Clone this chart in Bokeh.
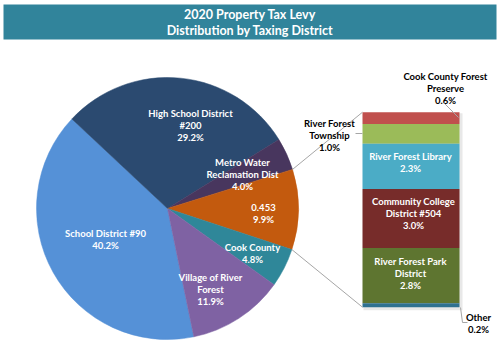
import math
from bokeh.plotting import figure
from bokeh.models import Range1d, ColumnDataSource
from bokeh.core.properties import value
from bokeh.embed import file_html
from bokeh.resources import INLINE

# ---------------- data ----------------
title_lines = ["2020 Property Tax Levy", "Distribution by Taxing District"]

pie_names = ["School District #90", "High School District #200", "Metro Water Reclamation Dist",
             "0.453", "Cook County", "Village of River Forest"]
pie_values = [40.2, 29.2, 4.0, 9.9, 4.8, 11.9]
pie_colors = ["#5591D7", "#2B4A70", "#48365E", "#C35A0E", "#2F8799", "#7F62A3"]
pie_label_lines = [["School District #90", "40.2%"],
                   ["High School District", "#200", "29.2%"],
                   ["Metro Water", "Reclamation Dist", "4.0%"],
                   ["0.453", "9.9%"],
                   ["Cook County", "4.8%"],
                   ["Village of River", "Forest", "11.9%"]]

bar_names = ["Cook County Forest Preserve", "River Forest Township", "River Forest Library",
             "Community College District #504", "River Forest Park District", "Other"]
bar_values = [0.6, 1.0, 2.3, 3.0, 2.8, 0.2]
bar_colors = ["#C0504D", "#9BBB59", "#4BACC6", "#772C2A", "#5E7530", "#2F7190"]
bar_label_lines = [["Cook County Forest", "Preserve", "0.6%"],
                   ["River Forest", "Township", "1.0%"],
                   ["River Forest Library", "2.3%"],
                   ["Community College", "District #504", "3.0%"],
                   ["River Forest Park", "District", "2.8%"],
                   ["Other", "0.2%"]]

# ---------------- layout ----------------
W, H = 500, 350
FONT = "Lato"

def Y(py):
    return H - py

p = figure(width=W, height=H, x_range=Range1d(0, W), y_range=Range1d(0, H),
           output_backend="svg", toolbar_location=None, min_border=0,
           background_fill_color="white", border_fill_color="white")
p.axis.visible = False
p.grid.visible = False
p.outline_line_color = None

# title band
p.quad(left=[3], right=[496], top=[Y(4)], bottom=[Y(39)], fill_color="#31849B", line_color=None)
p.text(x=[249.5, 249.5], y=[Y(14), Y(30)], text=title_lines, text_color="white",
       text_font=value(FONT), text_font_style="bold", text_font_size="12.5px",
       text_align="center", text_baseline="middle")

# pie
cx, cy, R = 167, Y(208), 131
start_cw = 168.4  # clockwise degrees from 12 o'clock where first slice begins
total = sum(pie_values)
starts, ends = [], []
acc = start_cw
for v in pie_values:
    a0 = acc
    a1 = acc + v / total * 360.0
    starts.append(math.radians(90 - a0))
    ends.append(math.radians(90 - a1))
    acc = a1
p.wedge(x=cx, y=cy, radius=R, start_angle=starts, end_angle=ends, direction="clock",
        fill_color=pie_colors, line_color=pie_colors, line_width=0.5)

# pie labels (px positions of first line centre)
pie_label_pos = [(105, 233), (190, 113), (242, 162), (263, 207), (252, 247), (210, 277)]
LS = 12
for (lx, ly), lines in zip(pie_label_pos, pie_label_lines):
    p.text(x=[lx] * len(lines), y=[Y(ly + i * LS) for i in range(len(lines))], text=lines,
           text_color="white", text_font=value(FONT), text_font_style="bold",
           text_font_size="9.5px", text_align="center", text_baseline="middle")

# connector angles of the "Other" slice (index 3)
other_start_cw = start_cw + sum(pie_values[:3]) / total * 360.0
other_end_cw = other_start_cw + pie_values[3] / total * 360.0

# stacked bar
bx0, bx1 = 362, 459
btop, bbot = Y(111.7), Y(306.7)
btotal = sum(bar_values)
scale = (btop - bbot) / btotal
tops, bots = [], []
acc = btop
for v in bar_values:
    tops.append(acc)
    acc -= v * scale
    bots.append(acc)
# faint shadow
p.quad(left=[bx0 + 1], right=[bx1 + 3], top=[btop - 1], bottom=[bbot - 3],
       fill_color="#D9D9D9", fill_alpha=0.6, line_color=None)
p.quad(left=[bx0] * len(bar_values), right=[bx1] * len(bar_values), top=tops, bottom=bots,
       fill_color=bar_colors, line_color=None)

# connectors
def pie_pt(cw_deg):
    a = math.radians(90 - cw_deg)
    return cx + R * math.cos(a), cy + R * math.sin(a)

sx, sy = pie_pt(other_start_cw)
ex, ey = pie_pt(other_end_cw)
p.segment(x0=[sx, ex], y0=[sy, ey], x1=[bx0, bx0], y1=[btop, bbot],
          line_color="#A6A6A6", line_width=1)

# bar labels inside (white)
inside_pos = {2: (410, 156), 3: (413, 201), 4: (410, 261)}
for i, (lx, ly) in inside_pos.items():
    lines = bar_label_lines[i]
    p.text(x=[lx] * len(lines), y=[Y(ly + k * LS) for k in range(len(lines))], text=lines,
           text_color="white", text_font=value(FONT), text_font_style="bold",
           text_font_size="9.5px", text_align="center", text_baseline="middle")

# outside labels (black)
outside_pos = {0: (445, 76), 1: (329, 123), 5: (478, 317)}
for i, (lx, ly) in outside_pos.items():
    lines = bar_label_lines[i]
    p.text(x=[lx] * len(lines), y=[Y(ly + k * LS) for k in range(len(lines))], text=lines,
           text_color="black", text_font=value(FONT), text_font_style="bold",
           text_font_size="9.5px", text_align="center", text_baseline="middle")

# leader lines for outside labels
p.line(x=[444, 458], y=[Y(103), Y(117)], line_color="#A6A6A6", line_width=1)
p.line(x=[355, 362], y=[Y(133), Y(133)], line_color="#A6A6A6", line_width=1)
p.line(x=[460, 462, 467], y=[Y(307), Y(322), Y(322)], line_color="#A6A6A6", line_width=1)

open("out.html", "w").write(file_html(p, INLINE))
